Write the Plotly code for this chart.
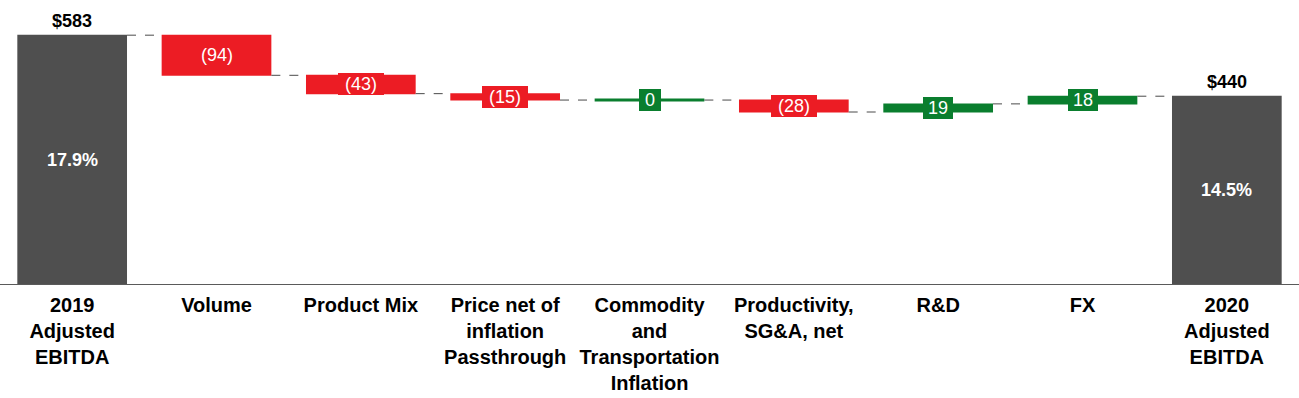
import plotly.graph_objects as go

categories = ["2019<br>Adjusted<br>EBITDA", "Volume", "Product Mix",
              "Price net of<br>inflation<br>Passthrough",
              "Commodity<br>and<br>Transportation<br>Inflation",
              "Productivity,<br>SG&A, net", "R&D", "FX",
              "2020<br>Adjusted<br>EBITDA"]
values = [583, -94, -43, -15, 0, -28, 19, 18, 440]
measures = ["absolute", "relative", "relative", "relative", "relative",
            "relative", "relative", "relative", "total"]
margin_labels = ["17.9%", None, None, None, None, None, None, None, "14.5%"]

RED = "#EC1C24"
GREEN = "#0A7E2E"
GRAY = "#4F4F4F"
FONT = "Liberation Sans, Arial, sans-serif"
BAR_W = 0.76

fig = go.Figure()
fig.add_trace(go.Waterfall(
    x=list(range(len(categories))), y=values, measure=measures,
    width=BAR_W,
    increasing=dict(marker=dict(color=GREEN, line=dict(width=0))),
    decreasing=dict(marker=dict(color=RED, line=dict(width=0))),
    totals=dict(marker=dict(color=GRAY, line=dict(width=0))),
    connector=dict(mode="between", line=dict(color="#4a4a4a", width=1, dash="dash")),
    hoverinfo="skip", textinfo="none",
))

# cumulative levels
levels = []
run = 0
for v, m in zip(values, measures):
    if m == "absolute":
        start, run = 0, v
    elif m == "total":
        start = 0
    else:
        start = run
        run = run + v
    end = run
    levels.append((start, end))

annotations = []
shapes = []
for i, (v, m) in enumerate(zip(values, measures)):
    start, end = levels[i]
    if m in ("absolute", "total"):
        annotations.append(dict(x=i, y=end, text=f"${v:,.0f}", showarrow=False,
                                yanchor="bottom", yshift=2,
                                font=dict(family=FONT, size=18, color="black", weight="bold")))
        annotations.append(dict(x=i, y=end / 2, text=margin_labels[i], showarrow=False,
                                font=dict(family=FONT, size=18, color="white", weight="bold")))
    else:
        color = GREEN if v >= 0 else RED
        txt = f"({abs(v)})" if v < 0 else f"{v}"
        if v == 0:
            shapes.append(dict(type="line", xref="x", yref="y",
                               x0=i - BAR_W / 2, x1=i + BAR_W / 2, y0=end, y1=end,
                               line=dict(color=GREEN, width=3)))
        annotations.append(dict(x=i, y=(start + end) / 2, text=txt, showarrow=False,
                                bgcolor=color, borderpad=1, borderwidth=0,
                                width=8 * len(txt) + 12, height=20,
                                font=dict(family=FONT, size=18, color="white")))

fig.update_layout(
    width=1299, height=398,
    margin=dict(l=0, r=0, t=10, b=114),
    paper_bgcolor="white", plot_bgcolor="white",
    showlegend=False,
    annotations=annotations, shapes=shapes,
    xaxis=dict(tickmode="array", tickvals=list(range(len(categories))),
               ticktext=[f"<b>{c}</b>" for c in categories],
               range=[-0.5, len(categories) - 0.5],
               showline=True, linecolor="#5a5a5a", linewidth=1,
               showgrid=False, zeroline=False, ticks="",
               ticklabelstandoff=3,
               tickfont=dict(family=FONT, size=20, color="black")),
    yaxis=dict(range=[0, 642], visible=False, showgrid=False, zeroline=False),
)
fig.write_html("out.html", config={"displayModeBar": False},
               post_script="document.body.style.margin='0';document.body.style.overflow='hidden';")
